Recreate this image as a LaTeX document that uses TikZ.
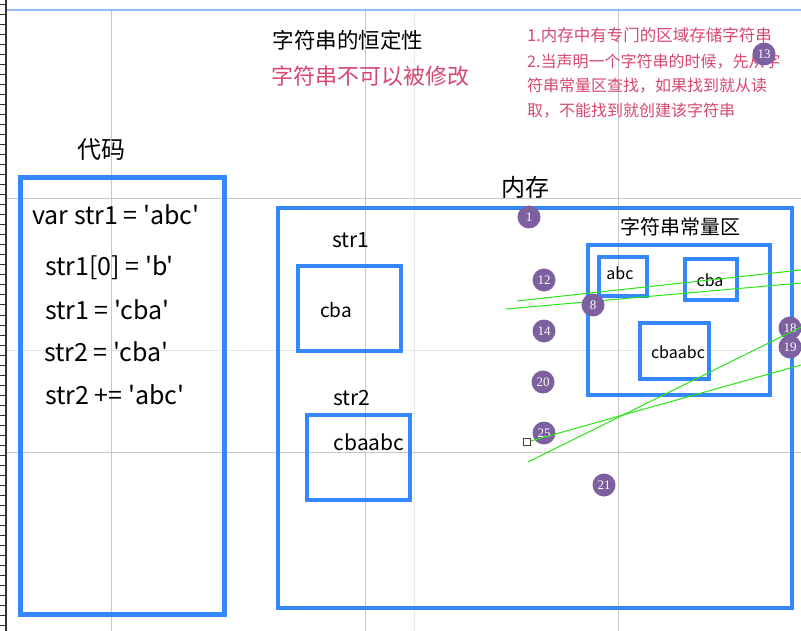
\documentclass[tikz,border=0pt]{standalone}
\usepackage{fontspec}
\setmainfont{Noto Sans CJK SC}[Ligatures=TeXOff]
\newfontfamily\numfont{Liberation Serif}
\usepackage{tikz}
\usetikzlibrary{positioning}
\usepackage{xcolor}

\definecolor{boxblue}{RGB}{51,136,255}
\definecolor{notered}{RGB}{214,72,112}
\definecolor{dotpurple}{RGB}{125,96,160}
\definecolor{gridgray}{RGB}{200,200,200}
\definecolor{gridfaint}{RGB}{232,232,232}
\definecolor{linegreen}{RGB}{40,230,20}
\definecolor{rulerblue}{RGB}{144,192,248}

\newcommand{\fs}[1]{\fontsize{#1}{#1}\selectfont}

\begin{document}
\begin{tikzpicture}[x=1pt, y=-1pt,
    membox/.style={draw=boxblue, line width=4pt, inner sep=0pt, outer sep=0pt},
    dot/.style={circle, fill=dotpurple, text=white, font=\numfont\fs{13}, minimum size=23pt, inner sep=0pt},
    trace/.style={linegreen, line width=1pt},
    label/.style={inner sep=0pt}]
            \useasboundingbox[fill=white] (0,0) rectangle (801,631);

            % grid and ruler
            \draw[gridfaint] (414,10) -- (414,631);
            \draw[gridfaint] (6,350) -- (801,350);
            \foreach \x in {111,365,618}
                \draw[gridgray] (\x,10) -- (\x,631);
            \foreach \y in {198,452}
                \draw[gridgray] (6,\y) -- (801,\y);
            \draw[rulerblue, line width=2pt] (6,10) -- (801,10);
            \draw[black!80, line width=1.2pt] (6,0) -- (6,631);
            \foreach \y in {5,15,...,625}
                \draw[black!80, line width=1pt] (0,\y) -- (6,\y);

            % titles
            \node[label, font=\fs{21.5}] (title) at (348,40) {字符串的恒定性};
            \node[label, font=\fs{22}, text=notered] (rule) at (370,76) {字符串不可以被修改};
            \node[label, font=\fs{16.5}, text=notered, anchor=west] (note1) at (527,35) {1.内存中有专门的区域存储字符串};
            \node[label, font=\fs{16}, text=notered, anchor=west] (note2) at (527,62) {2.当声明一个字符串的时候，先从字};
            \node[label, font=\fs{16}, text=notered, anchor=west] (note3) at (527,86) {符串常量区查找，如果找到就从读};
            \node[label, font=\fs{16}, text=notered, anchor=west] (note4) at (527,111) {取，不能找到就创建该字符串};

            % code
            \node[label, font=\fs{24}] (codetitle) at (101,150) {代码};
            \node[membox, line width=5pt, minimum width=204pt, minimum height=436pt] (code) at (122,396) {};
            \node[label, font=\fs{25}, anchor=west] (line1) at (32,215) {var str1 = 'abc'};
            \node[label, font=\fs{25}, anchor=west] (line2) at (45,268) {str1[0] = 'b'};
            \node[label, font=\fs{25}, anchor=west] (line3) at (45,310) {str1 = 'cba'};
            \node[label, font=\fs{25}, anchor=west] (line4) at (44,352) {str2 = 'cba'};
            \node[label, font=\fs{25}, anchor=west] (line5) at (45,395) {str2 += 'abc'};

            % memory
            \node[label, font=\fs{24}] (memtitle) at (525,187) {内存};
            \node[membox, minimum width=514pt, minimum height=400pt] (mem) at (535,408) {};
            \node[label, font=\fs{21}] (nameA) at (351,240) {str1};
            \node[membox, minimum width=103pt, minimum height=85pt] (strA) at (349.5,308.5) {};
            \node[label, font=\fs{19}] (valA) at (336,310) {cba};
            \node[label, font=\fs{21}] (nameB) at (352,398) {str2};
            \node[membox, minimum width=103pt, minimum height=85pt] (strB) at (358.5,457.5) {};
            \node[label, font=\fs{21}] (valB) at (369,442) {cbaabc};

            % constant pool
            \node[label, font=\fs{20}] (pooltitle) at (680,227) {字符串常量区};
            \node[membox, minimum width=182pt, minimum height=150pt] (pool) at (679,320) {};
            \node[membox, minimum width=48pt, minimum height=39pt] (abc) at (623,276.5) {};
            \node[label, font=\fs{16}] at (620,273) {abc};
            \node[membox, minimum width=52pt, minimum height=41pt] (cba) at (711,279.5) {};
            \node[label, font=\fs{16}] at (710,280) {cba};
            \node[membox, minimum width=69pt, minimum height=56pt] (cbaabc) at (674.5,351) {};
            \node[label, font=\fs{16}] at (678,352) {cbaabc};

            % markers
            \node[dot] (m1) at (529,217) {1};
            \node[dot] (m12) at (544,280) {12};
            \node[dot] (m14) at (544,331) {14};
            \node[dot] (m20) at (543,382) {20};
            \node[dot] (m25) at (544,433) {25};
            \node[dot] (m21) at (604,485) {21};
            \node[dot] (m18) at (790,328) {18};
            \node[dot] (m19) at (790,347) {19};

            \coordinate (a1) at (517,301);
            \coordinate (a2) at (801,270);
            \coordinate (b1) at (506,309);
            \coordinate (b2) at (801,283);
            \coordinate (c1) at (528,462);
            \coordinate (c2) at (801,327);
            \coordinate (d1) at (527,442);
            \coordinate (d2) at (801,365);
            \draw[trace] (a1) -- (a2);
            \draw[trace] (b1) -- (b2);
            \draw[trace] (c1) -- (c2);
            \draw[trace] (d1) -- (d2);
            \node[draw=black!75, fill=white, line width=1pt, minimum size=7pt, inner sep=0pt] (handle) at (d1) {};

            \node[dot] (m8) at (593,305) {8};
            \node[dot] (m13) at (764,54) {13};
        \end{tikzpicture}
\end{document}
